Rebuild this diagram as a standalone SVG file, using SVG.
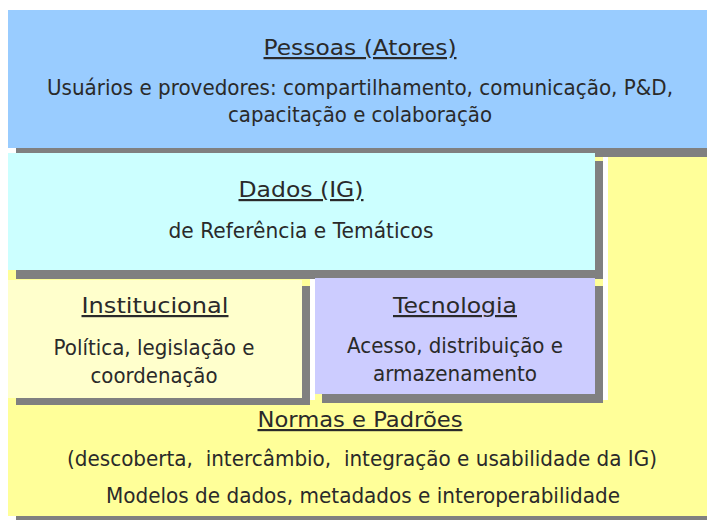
<svg xmlns="http://www.w3.org/2000/svg" width="707" height="520" viewBox="0 0 707 520">
<style>
.sh{fill:#808080}
.gap{fill:#ffffff}
text{font-family:"DejaVu Sans","Liberation Sans",sans-serif;fill:#2a2a2a;text-anchor:middle;white-space:pre}
.t{font-size:22px;text-decoration:underline}
.b{font-size:21px}
</style>
<rect x="0" y="0" width="707" height="520" fill="#ffffff"/>
<g id="normas">
<rect class="sh" x="16" y="164" width="691" height="356"/>
<rect x="8" y="156" width="699" height="360" fill="#FFFF99"/>
<text class="t" x="360" y="427" textLength="205" lengthAdjust="spacingAndGlyphs">Normas e Padrões</text>
<text class="b" x="362" y="466" textLength="590" lengthAdjust="spacingAndGlyphs">(descoberta,  intercâmbio,  integração e usabilidade da IG)</text>
<text class="b" x="363" y="503" textLength="514" lengthAdjust="spacingAndGlyphs">Modelos de dados, metadados e interoperabilidade</text>
</g>
<g id="pessoas">
<rect class="sh" x="16" y="18" width="691" height="139"/>
<rect x="8" y="10" width="699" height="138" fill="#99CCFF"/>
<text class="t" x="360" y="55" textLength="193" lengthAdjust="spacingAndGlyphs">Pessoas (Atores)</text>
<text class="b" x="360" y="95" textLength="626" lengthAdjust="spacingAndGlyphs">Usuários e provedores: compartilhamento, comunicação, P&amp;D,</text>
<text class="b" x="360" y="122" textLength="264" lengthAdjust="spacingAndGlyphs">capacitação e colaboração</text>
</g>
<g id="dados">
<rect class="gap" x="603" y="157" width="5" height="243"/>
<rect class="sh" x="16" y="161" width="587" height="118"/>
<rect x="8" y="153" width="587" height="117" fill="#CCFFFF"/>
<text class="t" x="301" y="197" textLength="125" lengthAdjust="spacingAndGlyphs">Dados (IG)</text>
<text class="b" x="301" y="238" textLength="265" lengthAdjust="spacingAndGlyphs">de Referência e Temáticos</text>
</g>
<g id="institucional">
<rect class="gap" x="310" y="279" width="5" height="121"/>
<rect class="sh" x="16" y="286" width="294" height="119"/>
<rect x="8" y="280" width="294" height="118" fill="#FFFFCC"/>
<text class="t" x="155" y="313" textLength="147" lengthAdjust="spacingAndGlyphs">Institucional</text>
<text class="b" x="154" y="355" textLength="201" lengthAdjust="spacingAndGlyphs">Política, legislação e</text>
<text class="b" x="154" y="383" textLength="127" lengthAdjust="spacingAndGlyphs">coordenação</text>
</g>
<g id="tecnologia">
<rect class="sh" x="322" y="286" width="281" height="117"/>
<rect x="315" y="278" width="280" height="116" fill="#CCCCFF"/>
<text class="t" x="455" y="313" textLength="124" lengthAdjust="spacingAndGlyphs">Tecnologia</text>
<text class="b" x="455" y="353" textLength="216" lengthAdjust="spacingAndGlyphs">Acesso, distribuição e</text>
<text class="b" x="455" y="381" textLength="164" lengthAdjust="spacingAndGlyphs">armazenamento</text>
</g>
<g id="connectors"></g>
</svg>
